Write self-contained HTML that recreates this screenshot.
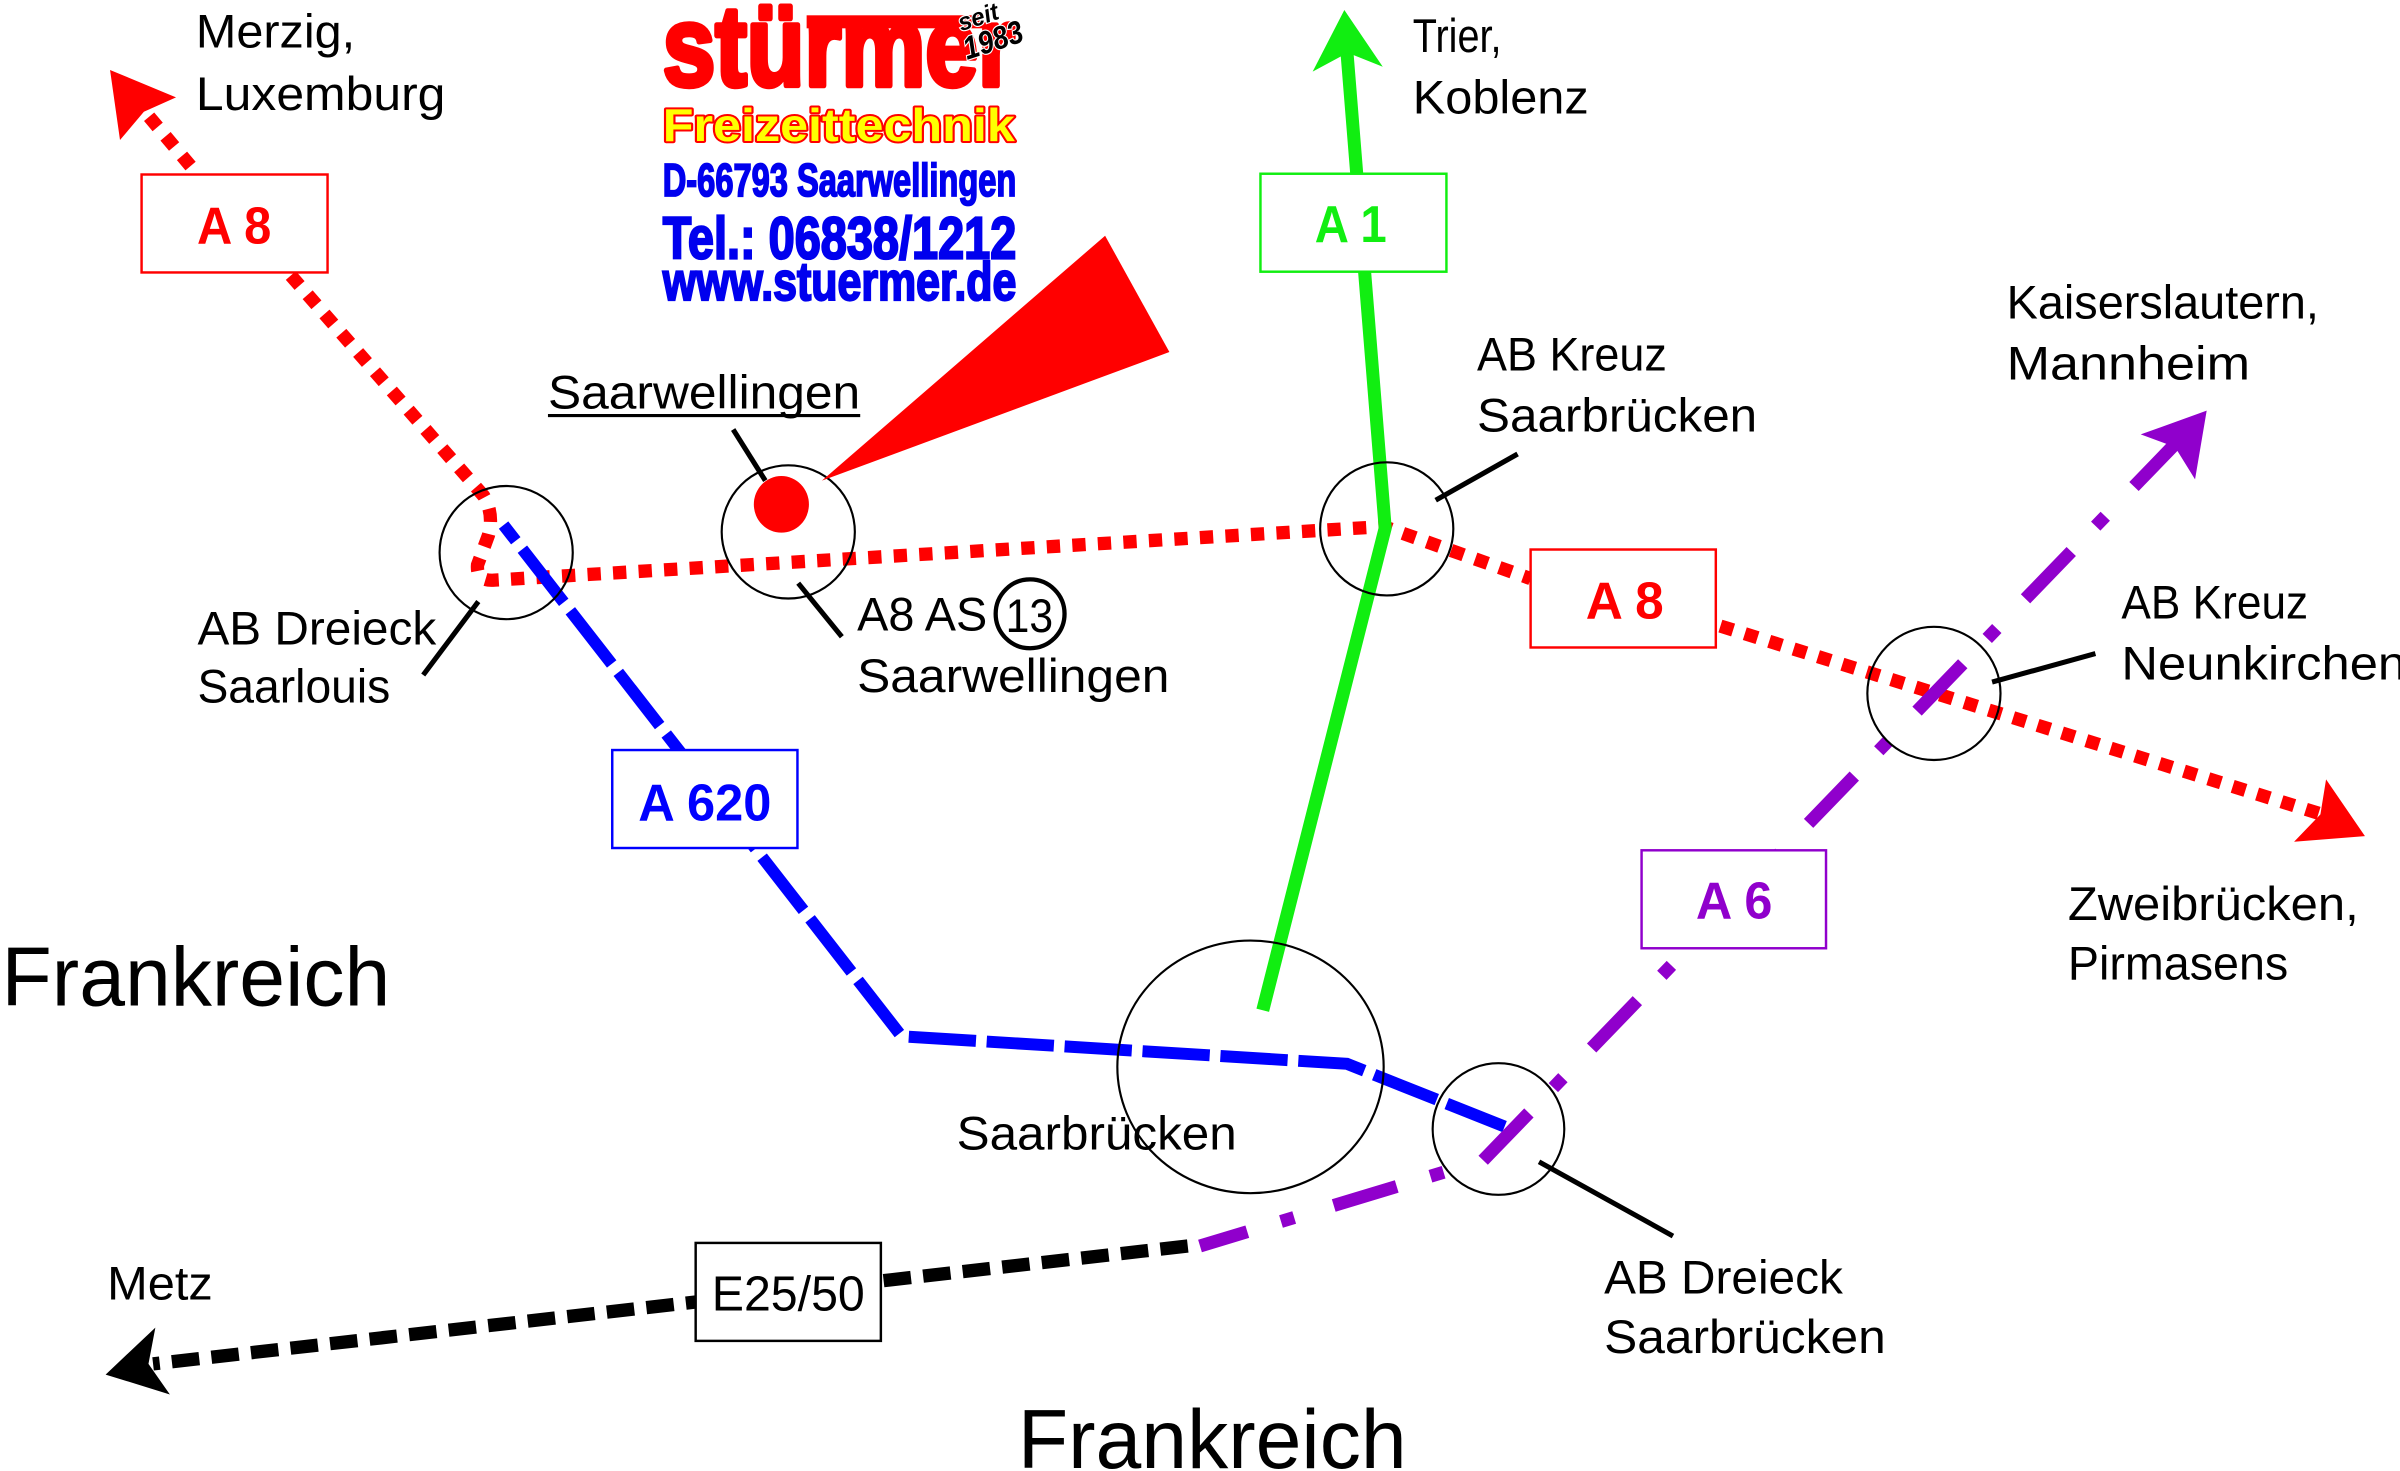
<!DOCTYPE html>
<html>
<head>
<meta charset="utf-8">
<style>
  html,body{margin:0;padding:0;background:#ffffff;}
  svg{display:block;}
  .t{font-family:"Liberation Sans",sans-serif;font-size:31px;fill:#000;}
  .big{font-family:"Liberation Sans",sans-serif;font-size:54.5px;fill:#000;}
  .e{font-family:"Liberation Sans",sans-serif;font-size:32px;fill:#000;}
  .b{font-family:"Liberation Sans",sans-serif;font-size:34px;font-weight:bold;}
</style>
</head>
<body>
<svg width="2400" height="1471" viewBox="0 0 1568 961" preserveAspectRatio="none" xmlns="http://www.w3.org/2000/svg">
  <rect x="0" y="0" width="1568" height="961" fill="#ffffff"/>

  <!-- ===== Roads ===== -->
  <!-- Red A8 dotted -->
  <g fill="none" stroke="#ff0000" stroke-width="8.7" stroke-dasharray="8.7 8">
    <path d="M124.5,108.5 L93,71"/>
    <path d="M190,180 L316,324 Q323,336 319,350 L312,369 Q311,380 323,379 L904,344 L1000,378"/>
    <path d="M1124,409 L1517,532"/>
  </g>
  <polygon points="71.9,45.7 115,63.6 94,73 78.4,91.5" fill="#ff0000"/>
  <polygon points="1545.1,546.2 1519.7,509.2 1516,532 1498.8,549.9" fill="#ff0000"/>

  <!-- Blue A620 dashed -->
  <path d="M329,343 L589,677 L880,695 L983,736" fill="none" stroke="#0000ff" stroke-width="7.8" stroke-dasharray="44 7" stroke-dashoffset="31"/>

  <!-- Green A1 solid -->
  <path d="M825,660 L905,345 L880,34" fill="none" stroke="#11ee11" stroke-width="8.5" stroke-linejoin="miter"/>
  <polygon points="878.3,6.5 903.4,43.6 880.5,34.5 857.6,46.8" fill="#11ee11"/>

  <!-- Black E25/50 dashed -->
  <path d="M776,814 L100,891" fill="none" stroke="#000" stroke-width="8.7" stroke-dasharray="18 8"/>
  <polygon points="69,898 101.5,867.3 97,891 111,911" fill="#000"/>

  <!-- Purple A6 dash-dot -->
  <path d="M969,758 L1424,287" fill="none" stroke="#9000cc" stroke-width="8.5" stroke-dasharray="43 23 9 27"/>
  <path d="M969,758 L784,814" fill="none" stroke="#9000cc" stroke-width="8.5" stroke-dasharray="0 27 9 23 43 0"/>
  <polygon points="1441.7,268.3 1398.6,283.8 1421,292 1434.1,313.2" fill="#9000cc"/>

  <!-- ===== Boxes ===== -->
  <rect x="92.5" y="114" width="121.5" height="64" fill="#fff" stroke="#ff0000" stroke-width="1.6"/>
  <text class="b" x="153" y="159" fill="#ff0000" text-anchor="middle" textLength="48.5" lengthAdjust="spacingAndGlyphs">A 8</text>

  <rect x="823.5" y="113.5" width="121.5" height="64" fill="#fff" stroke="#11ee11" stroke-width="1.6"/>
  <text class="b" x="882.5" y="158" fill="#11ee11" text-anchor="middle" textLength="47" lengthAdjust="spacingAndGlyphs">A 1</text>

  <rect x="1000" y="359" width="121" height="64" fill="#fff" stroke="#ff0000" stroke-width="1.6"/>
  <text class="b" x="1061.5" y="404" fill="#ff0000" text-anchor="middle" textLength="51" lengthAdjust="spacingAndGlyphs">A 8</text>

  <rect x="400" y="490" width="121" height="64" fill="#fff" stroke="#0000ff" stroke-width="1.6"/>
  <text class="b" x="460.5" y="536" fill="#0000ff" text-anchor="middle" textLength="87" lengthAdjust="spacingAndGlyphs">A 620</text>

  <rect x="1072.5" y="555.5" width="120.5" height="64" fill="#fff" stroke="#9000cc" stroke-width="1.6"/>
  <text class="b" x="1133" y="600" fill="#9000cc" text-anchor="middle" textLength="50" lengthAdjust="spacingAndGlyphs">A 6</text>

  <rect x="454.5" y="812" width="121" height="64" fill="#fff" stroke="#000" stroke-width="1.6"/>
  <text class="e" x="515" y="856" text-anchor="middle" textLength="100" lengthAdjust="spacingAndGlyphs">E25/50</text>

  <!-- ===== Circles ===== -->
  <g fill="none" stroke="#000" stroke-width="1.4">
    <circle cx="330.7" cy="361" r="43.5"/>
    <circle cx="515" cy="347.5" r="43.5"/>
    <circle cx="906" cy="345.5" r="43.5"/>
    <circle cx="1263.5" cy="453" r="43.5"/>
    <ellipse cx="817" cy="697" rx="87" ry="82.5"/>
    <circle cx="979" cy="737.6" r="43"/>
  </g>
  <ellipse cx="510.5" cy="329.5" rx="18" ry="18.5" fill="#ff0000"/>

  <!-- Red pointer wedge -->
  <polygon points="537,314 722,154 764,230" fill="#ff0000"/>

  <!-- Leader lines -->
  <g stroke="#000" stroke-width="3.3" fill="none">
    <line x1="479" y1="280.6" x2="500" y2="314"/>
    <line x1="312.5" y1="393" x2="276.5" y2="441"/>
    <line x1="521.5" y1="381" x2="550" y2="416"/>
    <line x1="991.5" y1="296.6" x2="938" y2="326.8"/>
    <line x1="1369" y1="427" x2="1301.5" y2="445.6"/>
    <line x1="1005.5" y1="759" x2="1093" y2="807.5"/>
  </g>

  <!-- ===== Labels ===== -->
  <text class="t" x="128" y="31" textLength="104" lengthAdjust="spacingAndGlyphs">Merzig,</text>
  <text class="t" x="128" y="72" textLength="163" lengthAdjust="spacingAndGlyphs">Luxemburg</text>
  <text class="t" x="923" y="34" textLength="58" lengthAdjust="spacingAndGlyphs">Trier,</text>
  <text class="t" x="923" y="74" textLength="115" lengthAdjust="spacingAndGlyphs">Koblenz</text>

  <text class="t" x="358" y="267" textLength="204" lengthAdjust="spacingAndGlyphs">Saarwellingen</text>
  <line x1="358" y1="271.5" x2="562" y2="271.5" stroke="#000" stroke-width="2"/>

  <text class="t" x="965" y="242" textLength="124" lengthAdjust="spacingAndGlyphs">AB Kreuz</text>
  <text class="t" x="965" y="282" textLength="183" lengthAdjust="spacingAndGlyphs">Saarbrücken</text>

  <text class="t" x="1311" y="208" textLength="204" lengthAdjust="spacingAndGlyphs">Kaiserslautern,</text>
  <text class="t" x="1311" y="248" textLength="159" lengthAdjust="spacingAndGlyphs">Mannheim</text>

  <text class="t" x="129" y="421" textLength="156" lengthAdjust="spacingAndGlyphs">AB Dreieck</text>
  <text class="t" x="129" y="459" textLength="126" lengthAdjust="spacingAndGlyphs">Saarlouis</text>

  <text class="t" x="560" y="412" textLength="85" lengthAdjust="spacingAndGlyphs">A8 AS</text>
  <circle cx="673" cy="401" r="22.5" fill="none" stroke="#000" stroke-width="2.8"/>
  <text class="t" x="672.5" y="413" text-anchor="middle" textLength="31" lengthAdjust="spacingAndGlyphs">13</text>
  <text class="t" x="560" y="452" textLength="204" lengthAdjust="spacingAndGlyphs">Saarwellingen</text>

  <text class="t" x="1386" y="404" textLength="122" lengthAdjust="spacingAndGlyphs">AB Kreuz</text>
  <text class="t" x="1386" y="444" textLength="186" lengthAdjust="spacingAndGlyphs">Neunkirchen</text>

  <text class="t" x="1351" y="601" textLength="190" lengthAdjust="spacingAndGlyphs">Zweibrücken,</text>
  <text class="t" x="1351" y="640" textLength="144" lengthAdjust="spacingAndGlyphs">Pirmasens</text>

  <text class="big" x="1" y="657" textLength="254" lengthAdjust="spacingAndGlyphs">Frankreich</text>
  <text class="t" x="625" y="751" textLength="183" lengthAdjust="spacingAndGlyphs">Saarbrücken</text>
  <text class="t" x="70" y="849" textLength="69" lengthAdjust="spacingAndGlyphs">Metz</text>
  <text class="t" x="1048" y="845" textLength="156" lengthAdjust="spacingAndGlyphs">AB Dreieck</text>
  <text class="t" x="1048" y="884" textLength="184" lengthAdjust="spacingAndGlyphs">Saarbrücken</text>
  <text class="big" x="665" y="959" textLength="254" lengthAdjust="spacingAndGlyphs">Frankreich</text>

  <!-- ===== Logo ===== -->
  <rect x="527" y="10" width="115" height="8.5" fill="#ff0000"/>
  <g transform="translate(0,56) scale(1,1.2) translate(0,-56)">
    <text x="433" y="56" font-family="'Liberation Sans',sans-serif" font-weight="bold" font-size="62" fill="#ff0000" stroke="#ff0000" stroke-width="3" stroke-linejoin="round" textLength="230" lengthAdjust="spacingAndGlyphs">stürmer</text>
  </g>
  <g transform="rotate(-18 645 18)">
    <text x="628" y="15" font-family="'Liberation Sans',sans-serif" font-weight="bold" font-style="italic" font-size="16" fill="#000" stroke="#fff" stroke-width="1.5" paint-order="stroke" textLength="27" lengthAdjust="spacingAndGlyphs">seit</text>
    <text x="626" y="34" font-family="'Liberation Sans',sans-serif" font-weight="bold" font-style="italic" font-size="21" fill="#000" stroke="#fff" stroke-width="1.5" paint-order="stroke" textLength="40" lengthAdjust="spacingAndGlyphs">1983</text>
  </g>
  <text x="433" y="92" font-family="'Liberation Sans',sans-serif" font-weight="bold" font-size="30" fill="#ffff00" stroke="#ff0000" stroke-width="2.6" paint-order="stroke" stroke-linejoin="round" textLength="230" lengthAdjust="spacingAndGlyphs">Freizeittechnik</text>
  <text x="433" y="128" font-family="'Liberation Sans',sans-serif" font-weight="bold" font-size="30" fill="#0000ee" stroke="#0000ee" stroke-width="1.2" textLength="231" lengthAdjust="spacingAndGlyphs">D-66793 Saarwellingen</text>
  <text x="433" y="169" font-family="'Liberation Sans',sans-serif" font-weight="bold" font-size="39" fill="#0000ee" stroke="#0000ee" stroke-width="1.5" textLength="231" lengthAdjust="spacingAndGlyphs">Tel.: 06838/1212</text>
  <text x="433" y="196" font-family="'Liberation Sans',sans-serif" font-weight="bold" font-size="35" fill="#0000ee" stroke="#0000ee" stroke-width="1.4" textLength="231" lengthAdjust="spacingAndGlyphs">www.stuermer.de</text>
</svg>
</body>
</html>
